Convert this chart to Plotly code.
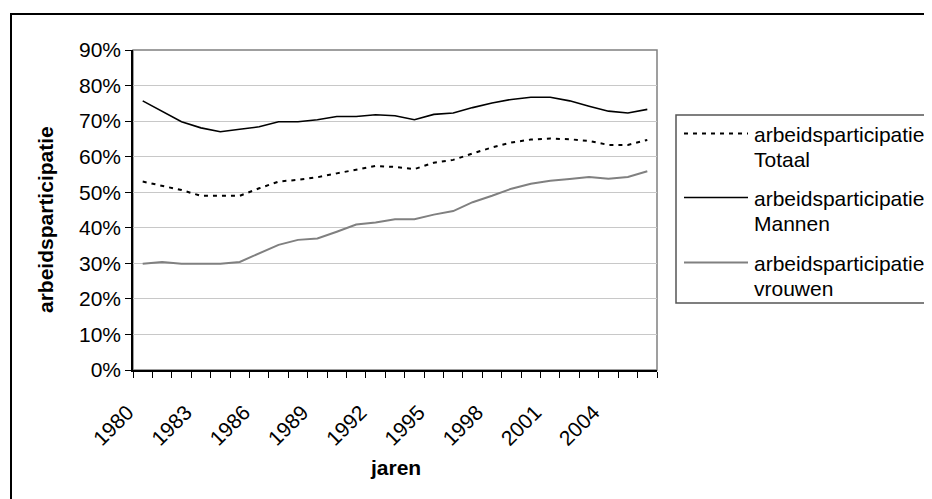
import plotly.graph_objects as go

years = list(range(1980, 2007))
totaal = [53.0, 51.9, 50.6, 49.0, 49.0, 49.0, 51.1, 53.0, 53.5, 54.2, 55.3, 56.4, 57.4,
          57.1, 56.5, 58.3, 59.1, 60.9, 62.6, 64.0, 64.8, 65.1, 64.9, 64.4, 63.3, 63.3, 64.7]
mannen = [75.7, 72.8, 69.8, 68.1, 67.0, 67.7, 68.4, 69.8, 69.8, 70.4, 71.3, 71.3, 71.8,
          71.5, 70.4, 71.9, 72.3, 73.8, 75.1, 76.1, 76.7, 76.7, 75.7, 74.2, 72.8, 72.3, 73.3]
vrouwen = [29.9, 30.4, 29.9, 29.9, 29.9, 30.4, 32.8, 35.2, 36.6, 37.0, 38.9, 40.9, 41.5,
           42.4, 42.4, 43.7, 44.7, 47.2, 49.0, 51.0, 52.4, 53.2, 53.7, 54.3, 53.8, 54.3, 55.9]
series_names = ["arbeidsparticipatie Totaal", "arbeidsparticipatie Mannen",
                "arbeidsparticipatie vrouwen"]
legend_lines = [("arbeidsparticipatie", "Totaal"), ("arbeidsparticipatie", "Mannen"),
                ("arbeidsparticipatie", "vrouwen")]
x_tick_years = list(range(1980, 2005, 3))
y_ticks = list(range(0, 100, 10))
x_title = "jaren"
y_title = "arbeidsparticipatie"

OFF = 8  # page body margin
W, H = 932 - OFF, 499 - OFF
# plot area in page pixels
L, R, T, B = 133, 657, 50, 370
FONT = "Liberation Sans, Arial, sans-serif"

def px_x(p):
    return (p - L) / (R - L)

def px_y(p):
    return (B - p) / (B - T)

styles = [dict(color="black", width=2, dash="4px,5px"),
          dict(color="black", width=1.6),
          dict(color="#808080", width=2)]

fig = go.Figure()
for name, vals, st in zip(series_names, [totaal, mannen, vrouwen], styles):
    fig.add_trace(go.Scatter(x=years, y=[v / 100 for v in vals], mode="lines",
                             name=name, line=st, showlegend=False))

shapes = []
shapes.append(dict(type="rect", xref="paper", yref="paper",
                   x0=px_x(11), x1=px_x(960), y0=px_y(14), y1=px_y(540),
                   line=dict(color="black", width=2), layer="below"))
shapes.append(dict(type="rect", xref="paper", yref="paper", x0=0, x1=1, y0=0, y1=1,
                   line=dict(color="#808080", width=1.5), layer="below"))
shapes.append(dict(type="rect", xref="paper", yref="paper",
                   x0=px_x(676), x1=px_x(960), y0=px_y(115), y1=px_y(303),
                   line=dict(color="#555555", width=1.5), fillcolor="white"))
annotations = []
ly = [133.5, 197.5, 262.5]
for (l1, l2), st, yy in zip(legend_lines, styles, ly):
    shapes.append(dict(type="line", xref="paper", yref="paper",
                       x0=px_x(684), x1=px_x(748), y0=px_y(yy), y1=px_y(yy),
                       line=st))
    annotations.append(dict(text=l1, xref="paper", yref="paper", x=px_x(752), y=px_y(yy + 1),
                            xanchor="left", yanchor="middle", showarrow=False,
                            font=dict(family=FONT, size=21, color="black")))
    annotations.append(dict(text=l2, xref="paper", yref="paper", x=px_x(752), y=px_y(yy + 26),
                            xanchor="left", yanchor="middle", showarrow=False,
                            font=dict(family=FONT, size=21, color="black")))
annotations.append(dict(text="<b>" + y_title + "</b>", xref="paper", yref="paper",
                        x=px_x(45), y=px_y(220), textangle=-90, showarrow=False,
                        xanchor="center", yanchor="middle",
                        font=dict(family=FONT, size=21, color="black")))
annotations.append(dict(text="<b>" + x_title + "</b>", xref="paper", yref="paper",
                        x=px_x(395), y=px_y(467), showarrow=False,
                        xanchor="center", yanchor="middle",
                        font=dict(family=FONT, size=21, color="black")))

fig.update_layout(
    width=W, height=H,
    margin=dict(l=L - OFF, r=W - (R - OFF), t=T - OFF, b=H - (B - OFF), pad=0),
    paper_bgcolor="white", plot_bgcolor="white",
    font=dict(family=FONT, size=21, color="black"),
    shapes=shapes, annotations=annotations,
    showlegend=False,
)
fig.update_xaxes(
    range=[1979.5, 2006.5], tickmode="array", tickvals=x_tick_years,
    ticktext=[str(y) for y in x_tick_years], tickangle=-45,
    ticks="outside", ticklen=0, showgrid=False, zeroline=False,
    showline=True, linecolor="black", linewidth=1.5,
    ticklabelstandoff=20, ticklabelshift=-15,
    tickfont=dict(family=FONT, size=21, color="black"),
    minor=dict(tick0=1979.5, dtick=1, ticks="outside", ticklen=6,
               tickcolor="black", tickwidth=1, showgrid=False),
)
fig.update_yaxes(
    range=[0, 0.9], tickmode="array", tickvals=[v / 100 for v in y_ticks],
    ticktext=[f"{v}%" for v in y_ticks],
    ticks="outside", ticklen=6, tickcolor="black", tickwidth=1,
    showgrid=True, gridcolor="#c8c8c8", gridwidth=1, zeroline=False,
    showline=True, linecolor="black", linewidth=1.5,
    tickfont=dict(family=FONT, size=21, color="black"),
)
fig.write_html("out.html")
